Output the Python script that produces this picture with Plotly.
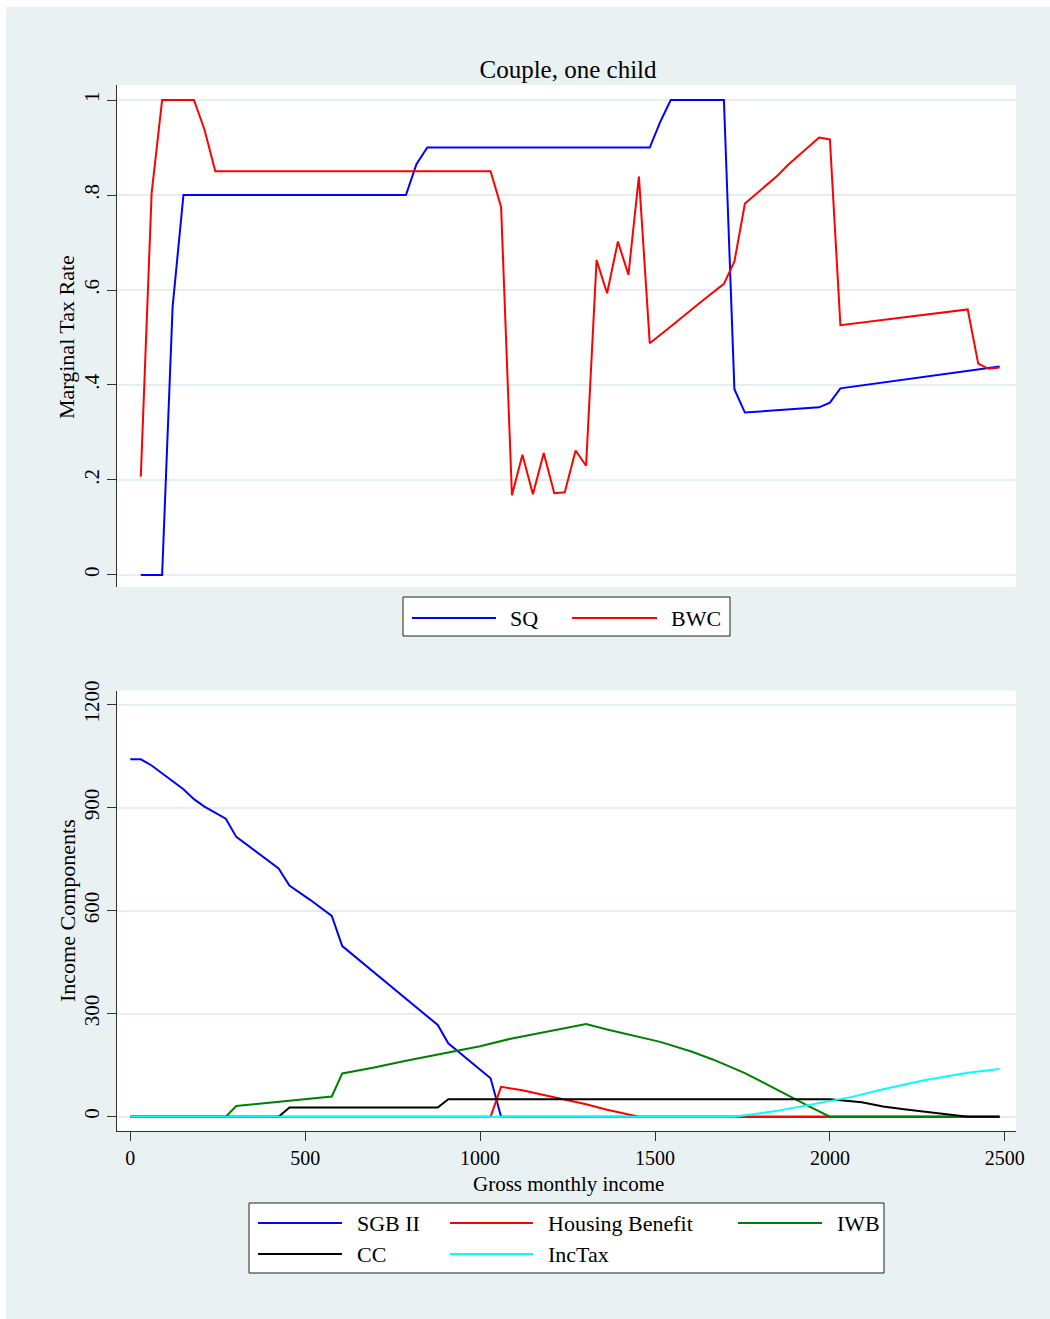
import plotly.graph_objects as go

# ---------------- data ----------------
sq_income = [30, 91, 121, 152, 788, 818, 849, 1485, 1515, 1545, 1697, 1727, 1757, 1969, 2000, 2030, 2485]
sq_rate = [0, 0, 0.565, 0.8, 0.8, 0.865, 0.9, 0.9, 0.954, 1.0, 1.0, 0.391, 0.342, 0.353, 0.363, 0.393, 0.439]

bwc_income = [30, 61, 91, 182, 212, 243, 1030, 1060, 1091, 1121, 1151, 1182, 1212, 1242, 1273, 1303,
              1333, 1363, 1394, 1424, 1454, 1485, 1545, 1606, 1640, 1697, 1727, 1757, 1849, 1880, 1939,
              1969, 2000, 2030, 2394, 2424, 2454, 2485]
bwc_rate = [0.207, 0.804, 1.0, 1.0, 0.938, 0.85, 0.85, 0.775, 0.168, 0.253, 0.170, 0.257, 0.172, 0.174,
            0.262, 0.230, 0.663, 0.593, 0.702, 0.632, 0.839, 0.488, 0.523, 0.560, 0.580, 0.613, 0.660,
            0.782, 0.840, 0.863, 0.902, 0.921, 0.917, 0.526, 0.559, 0.445, 0.434, 0.437]

sgb_income = [0, 30, 61, 121, 152, 182, 212, 273, 303, 424, 455, 515, 576, 606, 879, 909, 1030, 1060, 2485]
sgb_value = [1041, 1041, 1023, 976, 954, 925, 903, 868, 815, 723, 673, 631, 585, 497, 267, 214, 112, 0, 0]

hb_income = [0, 1030, 1060, 1121, 1182, 1242, 1303, 1363, 1424, 1454, 2485]
hb_value = [0, 0, 87, 77, 63, 50, 36, 20, 6, 0, 0]

iwb_income = [0, 273, 303, 364, 424, 485, 515, 576, 606, 697, 788, 909, 1000, 1091, 1182, 1242, 1303,
              1363, 1424, 1515, 1606, 1667, 1757, 1849, 1909, 1939, 2000, 2485]
iwb_value = [0, 0, 31, 37, 44, 49, 52, 59, 126, 143, 163, 188, 205, 228, 246, 257, 270,
             254, 239, 218, 189, 166, 127, 80, 47, 31, 0, 0]

cc_income = [0, 424, 455, 879, 909, 2000, 2091, 2152, 2212, 2303, 2394, 2485]
cc_value = [0, 0, 27, 27, 51, 51, 42, 30, 22, 12, 0, 0]

tax_income = [0, 1727, 1849, 1939, 2060, 2152, 2273, 2394, 2485]
tax_value = [0, 0, 17, 35, 57, 80, 107, 128, 139]

top_ticks = [0, 0.2, 0.4, 0.6, 0.8, 1]
top_ticktext = ["0", ".2", ".4", ".6", ".8", "1"]
bottom_yticks = [0, 300, 600, 900, 1200]
bottom_xticks = [0, 500, 1000, 1500, 2000, 2500]

top_names = ["SQ", "BWC"]
bottom_names = ["SGB II", "Housing Benefit", "IWB", "CC", "IncTax"]
chart_title = "Couple, one child"
top_ytitle = "Marginal Tax Rate"
bottom_ytitle = "Income Components"
bottom_xtitle = "Gross monthly income"

# ---------------- layout helpers ----------------
W, H = 1050, 1319
BG = "#EAF1F3"
GRID = "#E6EEF1"
AX = "#333333"
FONT = "Liberation Serif"


def px(x):
    return x / W


def py(y):
    return 1 - y / H


fig = go.Figure()

LW = 2.0
fig.add_trace(go.Scatter(x=sq_income, y=sq_rate, mode="lines", name=top_names[0],
                         line=dict(color="#0000FF", width=LW), xaxis="x", yaxis="y"))
fig.add_trace(go.Scatter(x=bwc_income, y=bwc_rate, mode="lines", name=top_names[1],
                         line=dict(color="#FF0000", width=LW), xaxis="x", yaxis="y"))

bottom_series = [(sgb_income, sgb_value, "#0000FF"),
                 (hb_income, hb_value, "#FF0000"),
                 (iwb_income, iwb_value, "#008000"),
                 (cc_income, cc_value, "#000000"),
                 (tax_income, tax_value, "#00FFFF")]
for (xs, ys, col), nm in zip(bottom_series, bottom_names):
    fig.add_trace(go.Scatter(x=xs, y=ys, mode="lines", name=nm,
                             line=dict(color=col, width=LW), xaxis="x2", yaxis="y2"))

xr = [-38, 2532]
common_y = dict(showline=True, linecolor=AX, linewidth=1, ticks="outside", ticklen=9,
                tickcolor=AX, tickwidth=1, showgrid=True, gridcolor=GRID, gridwidth=1.5,
                zeroline=False, tickangle=-90, tickfont=dict(size=21, color="#000"),
                automargin=False)

fig.update_layout(
    template="none",
    width=W, height=H,
    margin=dict(l=0, r=0, t=0, b=0, pad=0, autoexpand=False),
    paper_bgcolor=BG,
    plot_bgcolor="#FFFFFF",
    font=dict(family=FONT, color="#000000"),
    showlegend=False,
    title=dict(text=chart_title, x=px(568), y=py(69), xanchor="center", yanchor="middle",
               xref="paper", yref="paper", font=dict(size=25, family=FONT, color="#000")),
    xaxis=dict(domain=[px(117), px(1016)], range=xr, anchor="y", showticklabels=False,
               showline=False, ticks="", showgrid=False, zeroline=False, automargin=False),
    yaxis=dict(domain=[py(587), py(85)], range=[-0.0253, 1.0316], anchor="x",
               tickvals=top_ticks, ticktext=top_ticktext, **common_y),
    xaxis2=dict(domain=[px(117), px(1016)], range=xr, anchor="y2", tickvals=bottom_xticks,
                showline=True, linecolor=AX, linewidth=1, ticks="outside", ticklen=9,
                tickcolor=AX, showgrid=False, zeroline=False, tickfont=dict(size=20, color="#000"),
                automargin=False),
    yaxis2=dict(domain=[py(1130.7), py(690.7)], range=[-40.8, 1240.8], anchor="x2",
                tickvals=bottom_yticks, **common_y),
)

shapes = []
annotations = []
# white frame strips at top and left (outside the grey panel)
shapes.append(dict(type="rect", xref="paper", yref="paper", x0=0, x1=px(6), y0=0, y1=1,
                   fillcolor="#FFFFFF", line=dict(width=0), layer="below"))
shapes.append(dict(type="rect", xref="paper", yref="paper", x0=0, x1=1, y0=py(7), y1=1,
                   fillcolor="#FFFFFF", line=dict(width=0), layer="below"))

# axis titles
annotations.append(dict(text=top_ytitle, xref="paper", yref="paper", x=px(67), y=py(337),
                        xanchor="center", yanchor="middle", textangle=-90, showarrow=False,
                        font=dict(size=22, family=FONT, color="#000")))
annotations.append(dict(text=bottom_ytitle, xref="paper", yref="paper", x=px(67), y=py(911),
                        xanchor="center", yanchor="middle", textangle=-90, showarrow=False,
                        font=dict(size=22, family=FONT, color="#000")))
annotations.append(dict(text=bottom_xtitle, xref="paper", yref="paper", x=px(568), y=py(1184),
                        xanchor="center", yanchor="middle", showarrow=False,
                        font=dict(size=21, family=FONT, color="#000")))

# top legend
shapes.append(dict(type="rect", xref="paper", yref="paper", x0=px(403), x1=px(730),
                   y0=py(636), y1=py(597), fillcolor="#FFFFFF", line=dict(color="#222", width=1)))
top_leg = [(412, 496, 508, "#0000FF", top_names[0]), (572, 657, 669, "#FF0000", top_names[1])]
for x0, x1, xt, col, nm in top_leg:
    shapes.append(dict(type="line", xref="paper", yref="paper", x0=px(x0), x1=px(x1),
                       y0=py(618), y1=py(618), line=dict(color=col, width=2)))
    annotations.append(dict(text=nm, xref="paper", yref="paper", x=px(xt), y=py(618),
                            xanchor="left", yanchor="middle", showarrow=False,
                            font=dict(size=22, family=FONT, color="#000")))

# bottom legend
shapes.append(dict(type="rect", xref="paper", yref="paper", x0=px(249), x1=px(884),
                   y0=py(1273), y1=py(1203), fillcolor="#FFFFFF", line=dict(color="#222", width=1)))
cols = [(258, 342, 355), (450, 533, 546), (738, 822, 835)]
rows = [1223, 1254]
for i, (nm, (_, _, col)) in enumerate(zip(bottom_names, bottom_series)):
    r, c = divmod(i, 3)
    x0, x1, xt = cols[c]
    yy = rows[r]
    shapes.append(dict(type="line", xref="paper", yref="paper", x0=px(x0), x1=px(x1),
                       y0=py(yy), y1=py(yy), line=dict(color=col, width=2)))
    annotations.append(dict(text=nm, xref="paper", yref="paper", x=px(xt), y=py(yy),
                            xanchor="left", yanchor="middle", showarrow=False,
                            font=dict(size=22, family=FONT, color="#000")))

fig.update_layout(shapes=shapes, annotations=annotations)

fig.write_html("out.html", config={"displayModeBar": False},
               post_script="document.documentElement.style.margin='0';document.body.style.margin='0';"
                           "document.documentElement.style.overflow='hidden';document.body.style.overflow='hidden';")
